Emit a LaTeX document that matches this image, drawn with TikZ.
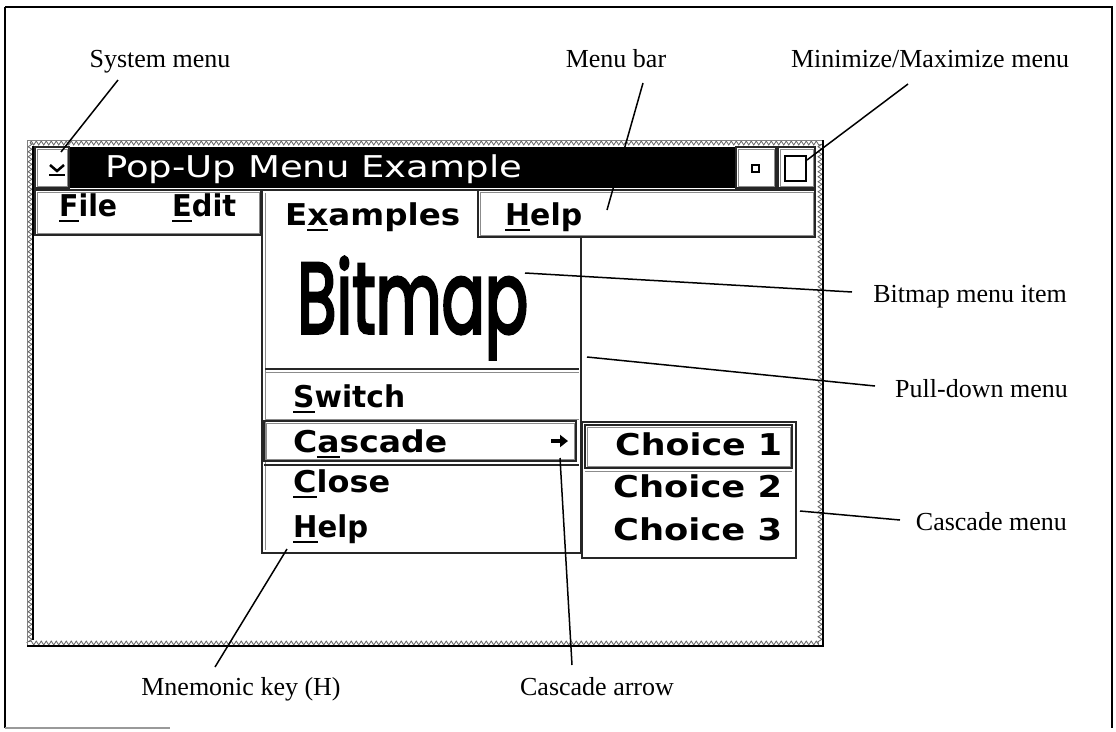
\documentclass[tikz,border=0pt]{standalone}
\usepackage{fontspec}
\usepackage{graphicx}
\setmainfont{Liberation Serif}
\newfontfamily\scrfont{DejaVu Sans}
\newfontfamily\bmpfont{Poppins}[FakeBold=3.5]
\usetikzlibrary{decorations.pathmorphing,arrows.meta}
\newlength\fitlen
\newcommand\fitto[2]{\settowidth\fitlen{#2}\pgfmathsetmacro\fitsx{#1/\fitlen}\scalebox{\fitsx}[1]{#2}}
\newcommand\mn[1]{\setbox0\hbox{#1}\rlap{\rule[-6pt]{\wd0}{2.2pt}}\box0}
\begin{document}
\begin{tikzpicture}[x=1pt,y=-1pt,
  lbl/.style={font=\fontsize{26}{30}\selectfont, inner sep=0},
  scr/.style={font=\scrfont\bfseries\fontsize{30}{34}\selectfont, inner sep=0, anchor=base west},
  ldr/.style={line width=1.5, black},
  boxo/.style={draw=black!85, line width=1.3},
  boxi/.style={draw=black!45, line width=0.9},
  hatch/.style={draw=black!60, line width=0.8, decorate, decoration={zigzag, segment length=5, amplitude=2}}]
\useasboundingbox (0,0) rectangle (1116,731);
% outer frame
\draw[line width=2.5] (5,728) -- (5,7);
\draw[line width=1.6] (5,7) -- (1112,7) -- (1112,728);
\draw[black!40, line width=1.5] (5,728) -- (170,728);
% window frame
\draw[hatch] (30,143) -- (820,143) -- (820,643) -- (30,643) -- cycle;
\draw[black!50, line width=0.6] (27,646) -- (27,140) -- (823,140);
\draw[line width=1.4] (33,146) -- (33,640);
\draw[line width=2] (823,140) -- (823,646) -- (27,646);
% title bar
\fill (70,147) rectangle (735,188);
\draw[boxo] (35,147) rectangle (69,188);
\draw[boxi] (37,149) rectangle (67,186);
\draw[line width=2.5] (50,165) -- (57,171) -- (64,165);
\draw[line width=2.5] (49,175) -- (65,175);
\draw[boxo] (736,147) rectangle (776,188);
\draw[boxi] (738,149) rectangle (774,186);
\draw[line width=2] (752,165) rectangle (759,172);
\draw[boxo] (778,147) rectangle (815,188);
\draw[boxi] (780,149) rectangle (813,186);
\draw[line width=2.5] (785,156) rectangle (806,181);
\node[anchor=base west, inner sep=0, text=white, font=\scrfont\fontsize{30}{34}\selectfont] (title) at (105,177) {\fitto{417}{Pop-Up Menu Example}};
% menu bar
\draw[boxo] (35,190) rectangle (261,235);
\draw[boxi] (37,192) rectangle (259,233);
\draw[boxo] (478,190) rectangle (815,237);
\draw[boxi] (480,192) rectangle (813,235);
% pull-down menu with tab
\fill[white] (262,190) -- (478,190) -- (478,237) -- (581,237) -- (581,553) -- (262,553) -- cycle;
\draw[boxo] (262,190) -- (478,190) -- (478,237) -- (581,237) -- (581,553) -- (262,553) -- cycle;
\draw[boxi] (265,193) -- (265,550);
\draw[boxo] (265,369) -- (579,369);
\draw[boxi] (265,372) -- (579,372);
\draw[boxi] (265,419) -- (579,419);
\draw[boxo] (264,421) rectangle (576,461);
\draw[boxi] (266,423) rectangle (574,459);
\draw[boxo] (264,465) -- (579,465);
% cascade menu
\draw[boxo] (582,422) rectangle (796,558);
\draw[boxo] (585,425) rectangle (792,468);
\draw[boxi] (587,427) rectangle (790,466);
\draw[boxi] (585,471) -- (792,471);
% menu texts
\node[scr] (file) at (59,216) {\fitto{58}{\mn{F}ile}};
\node[scr] (edit) at (172,216) {\fitto{64}{\mn{E}dit}};
\node[scr] (examples) at (285,225) {\fitto{175}{E\mn{x}amples}};
\node[scr] (help) at (505,225) {\fitto{77}{\mn{H}elp}};
\node[anchor=base west, inner sep=0, font=\bmpfont\fontsize{100}{110}\selectfont] (bitmap) at (297,333) {\fitto{231}{Bitmap}};
\node[scr] (switch) at (293,407) {\fitto{112}{\mn{S}witch}};
\node[scr] (cascade) at (293,452) {\fitto{154}{C\mn{a}scade}};
\node[scr] (close) at (293,492) {\fitto{97}{\mn{C}lose}};
\node[scr] (help2) at (293,537) {\fitto{75}{\mn{H}elp}};
\node[scr] (ch1) at (615,455) {\fitto{167}{Choice 1}};
\node[scr] (ch2) at (613,497) {\fitto{169}{Choice 2}};
\node[scr] (ch3) at (613,540) {\fitto{169}{Choice 3}};
\coordinate (arA) at (551,441);
\coordinate (arB) at (568,441);
\draw[line width=3.2, -{Triangle[length=8,width=12]}] (arA) -- (arB);
% labels
\node[lbl, anchor=base] (Lsys) at (160,67) {System menu};
\node[lbl, anchor=base] (Lbar) at (616,67) {Menu bar};
\node[lbl, anchor=base] (Lmm) at (930,67) {Minimize/Maximize menu};
\node[lbl, anchor=base east] (Lbmp) at (1067,302) {Bitmap menu item};
\node[lbl, anchor=base east] (Lpd) at (1068,397) {Pull-down menu};
\node[lbl, anchor=base east] (Lcm) at (1067,530) {Cascade menu};
\node[lbl, anchor=base] (Lmn) at (241,695) {Mnemonic key (H)};
\node[lbl, anchor=base] (Lca) at (597,695) {Cascade arrow};
% leader ends
\coordinate (s1) at (118,80);  \coordinate (s2) at (61,152);
\coordinate (b1) at (643,83);  \coordinate (b2) at (607,210);
\coordinate (m1) at (908,84);  \coordinate (m2) at (807,160);
\coordinate (p1) at (852,292); \coordinate (p2) at (525,273);
\coordinate (q1) at (875,386); \coordinate (q2) at (587,357);
\coordinate (c1) at (900,520); \coordinate (c2) at (800,511);
\coordinate (n1) at (215,667); \coordinate (n2) at (287,549);
\coordinate (a1) at (572,665); \coordinate (a2) at (560,458);
\draw[ldr] (s1) -- (s2);
\draw[ldr] (b1) -- (b2);
\draw[ldr] (m1) -- (m2);
\draw[ldr] (p1) -- (p2);
\draw[ldr] (q1) -- (q2);
\draw[ldr] (c1) -- (c2);
\draw[ldr] (n1) -- (n2);
\draw[ldr] (a1) -- (a2);
\end{tikzpicture}
\end{document}
